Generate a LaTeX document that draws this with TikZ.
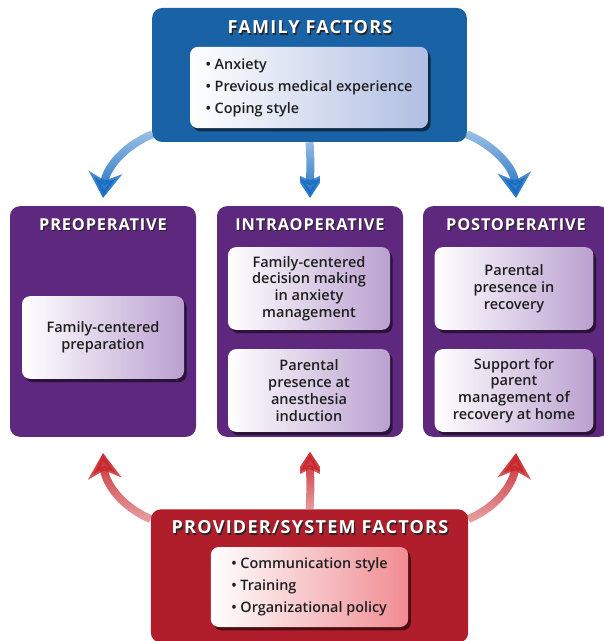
\documentclass[tikz,border=0pt]{standalone}
\usepackage{fontspec}
\setmainfont{Open Sans}
\IfFontExistsTF{Open Sans SemiBold}{\newfontfamily\bodyfont{Open Sans SemiBold}}{%
  \IfFontExistsTF{Open Sans Semibold}{\newfontfamily\bodyfont{Open Sans Semibold}}{%
    \newfontfamily\bodyfont{Open Sans}[FakeBold=1.3]}}
\newfontfamily\titlefont{Open Sans}[LetterSpace=7]
\newfontfamily\phasefont{Open Sans}[LetterSpace=5]
\usetikzlibrary{shadows,fadings,arrows.meta,backgrounds}
\definecolor{famblue}{RGB}{26,98,166}
\definecolor{arrblue}{RGB}{20,106,192}
\definecolor{phasepurple}{RGB}{94,40,126}
\definecolor{provred}{RGB}{176,30,44}
\definecolor{arrred}{RGB}{198,36,42}
\definecolor{bluetint}{RGB}{176,190,226}
\definecolor{purptint}{RGB}{186,160,208}
\definecolor{redtint}{RGB}{240,140,146}
\tikzfading[name=fadeup, top color=transparent!58, bottom color=transparent!0]
\tikzfading[name=fadedown, top color=transparent!0, bottom color=transparent!58]
\newcommand{\shtitle}[1]{\makebox[0pt][l]{\kern0.9pt\raisebox{-0.9pt}{\textcolor{black!85}{#1}}}\textcolor{white}{#1}}
\tikzset{
  outerbox/.style={rounded corners=7.5pt, inner sep=0pt, draw=none},
  phasebox/.style={outerbox, fill=phasepurple, minimum width=139.5pt, minimum height=173pt},
  titletext/.style={inner sep=0pt, font=\titlefont\bfseries\fontsize{13.5}{15}\selectfont},
  phasetitle/.style={inner sep=0pt, font=\phasefont\bfseries\fontsize{12.3}{14}\selectfont},
  innerbox/.style={rounded corners=6pt, inner sep=0pt, align=center, text=black!88,
    drop shadow={shadow xshift=2pt, shadow yshift=-2.5pt, opacity=0.55, fill=black},
    font=\bodyfont\fontsize{10.9}{12.6}\selectfont},
  purpin/.style={innerbox, left color=white, right color=purptint, minimum width=121.5pt, minimum height=62pt},
  listbox/.style={innerbox, align=left, font=\bodyfont\fontsize{10.8}{16.5}\selectfont},
  barrow/.style={line width=6pt, arrblue, -{Stealth[length=19pt, width=25pt, inset=6pt]}, path fading=fadeup},
  rarrow/.style={line width=6pt, arrred, -{Stealth[length=19pt, width=25pt, inset=6pt]}, path fading=fadedown}
}
\begin{document}
\begin{tikzpicture}[x=0.75pt, y=-0.75pt]
\useasboundingbox (0,0) rectangle (603,641);
% family factors
\node[outerbox, fill=famblue, minimum width=236pt, minimum height=100.5pt] (fam) at (309.5,75) {};
\node[titletext] (famt) at (310,28) {\shtitle{FAMILY FACTORS}};
\node[listbox, left color=white, right color=bluetint, minimum width=178.5pt, minimum height=61pt] (famin) at (309,87.5)
  {\textbullet\ Anxiety\\ \textbullet\ Previous medical experience\\ \textbullet\ Coping style};
% phases
\node[phasebox] (pre) at (103,321.5) {};
\node[phasebox] (intra) at (310,321.5) {};
\node[phasebox] (post) at (516,321.5) {};
\node[phasetitle] (pret) at (103,225) {\shtitle{PREOPERATIVE}};
\node[phasetitle] (intrat) at (310,225) {\shtitle{INTRAOPERATIVE}};
\node[phasetitle] (postt) at (516,225) {\shtitle{POSTOPERATIVE}};
\node[purpin] (pre1) at (103,337.5) {Family-centered\\preparation};
\node[purpin] (intra1) at (309,288.5) {Family-centered\\decision making\\in anxiety\\management};
\node[purpin] (intra2) at (309,390.5) {Parental\\presence at\\anesthesia\\induction};
\node[purpin, minimum width=119pt] (post1) at (514,288.5) {Parental\\presence in\\recovery};
\node[purpin, minimum width=119pt] (post2) at (514,390.5) {Support for\\parent\\management of\\recovery at home};
% provider factors
\node[outerbox, fill=provred, minimum width=238pt, minimum height=100pt] (prov) at (309.5,576) {};
\node[titletext] (provt) at (310,528) {\shtitle{PROVIDER/SYSTEM FACTORS}};
\node[listbox, left color=white, right color=redtint, minimum width=148pt, minimum height=60pt] (provin) at (309.5,587)
  {\textbullet\ Communication style\\ \textbullet\ Training\\ \textbullet\ Organizational policy};
% arrows
\begin{scope}[on background layer]
\draw[barrow] ([xshift=0.5pt,yshift=6pt]fam.south west) .. controls (125,145) and (106,168) .. ([yshift=6pt]pre.north);
\draw[barrow] (fam.south) .. controls (311,160) and (310,180) .. ([yshift=6pt]intra.north);
\draw[barrow] ([xshift=-0.5pt,yshift=6pt]fam.south east) .. controls (494,145) and (514,168) .. ([yshift=6pt]post.north);
\draw[rarrow] ([yshift=-7.5pt]prov.north west) .. controls (120,506) and (105,482) .. ([yshift=-12pt]pre.south);
\draw[rarrow] (prov.north) .. controls (311,490) and (310,470) .. ([yshift=-11pt]intra.south);
\draw[rarrow] ([yshift=-7.5pt]prov.north east) .. controls (499,506) and (514,482) .. ([yshift=-12pt]post.south);
\end{scope}
\end{tikzpicture}
\end{document}
